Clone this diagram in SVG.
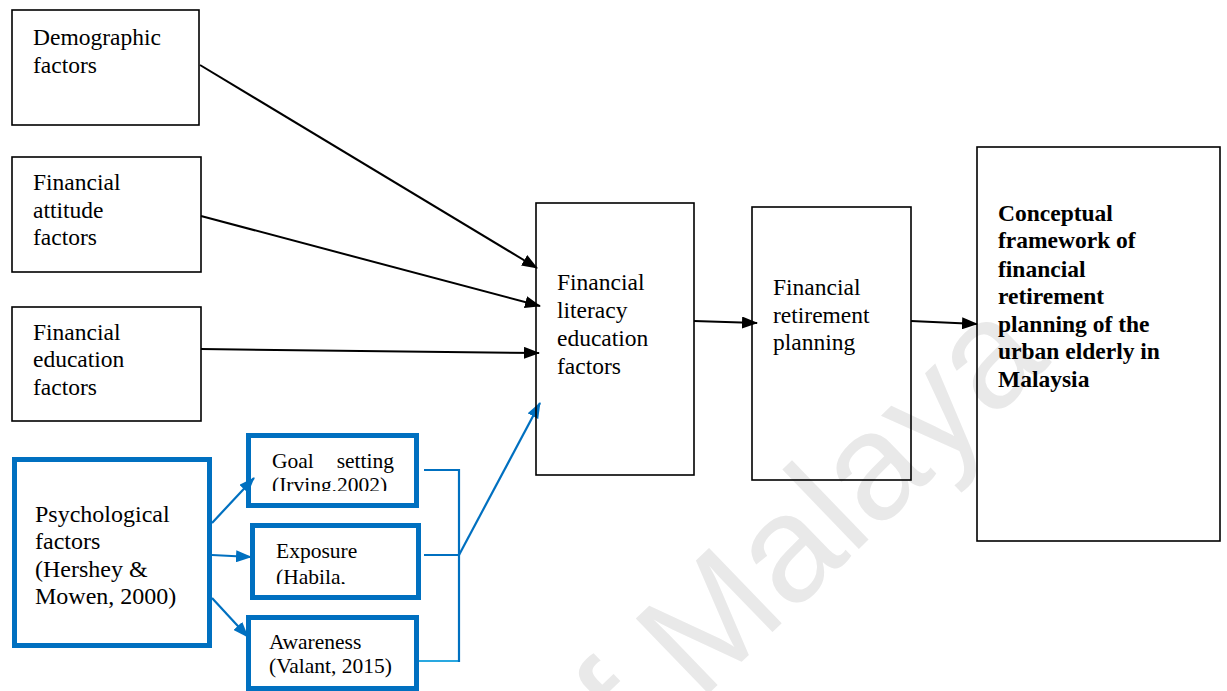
<svg xmlns="http://www.w3.org/2000/svg" width="1227" height="691" viewBox="0 0 1227 691">
<style>
  .box{fill:none;stroke:#000;stroke-width:1.6}
  .bbox{fill:none;stroke:#0070C0;stroke-width:5}
  .t{font-family:"Liberation Serif","Times New Roman",serif;font-size:23.5px;fill:#000}
  .tp{font-family:"Liberation Serif","Times New Roman",serif;font-size:24px;fill:#000}
  .ts{font-family:"Liberation Serif","Times New Roman",serif;font-size:21.5px;fill:#000}
  .tb{font-family:"Liberation Serif","Times New Roman",serif;font-size:23.5px;font-weight:bold;fill:#000}
  .ln{fill:none;stroke:#000;stroke-width:2}
  .bl{fill:none;stroke:#0070C0;stroke-width:2.2}
  .wm{font-family:"Liberation Sans",Arial,sans-serif;font-size:152px;fill:#e9e9e9}
</style>
<defs>
  <marker id="ah" viewBox="0 0 16 12" refX="15" refY="6" markerWidth="16" markerHeight="12" markerUnits="userSpaceOnUse" orient="auto">
    <path d="M0,0 L16,6 L0,12 z" fill="#000"/>
  </marker>
  <marker id="ahb" viewBox="0 0 16 12" refX="15" refY="6" markerWidth="16" markerHeight="12" markerUnits="userSpaceOnUse" orient="auto">
    <path d="M0,0 L16,6 L0,12 z" fill="#0070C0"/>
  </marker>
  <clipPath id="cg"><rect x="250" y="437" width="165" height="54"/></clipPath>
  <clipPath id="ce"><rect x="254" y="527" width="163" height="57"/></clipPath>
</defs>

<g id="watermark">
  <text class="wm" transform="translate(578,820) rotate(-44)">of Malaya</text>
</g>

<g id="connectors">
  <line class="ln" x1="200" y1="65" x2="537" y2="268" marker-end="url(#ah)"/>
  <line class="ln" x1="201" y1="216" x2="540" y2="306" marker-end="url(#ah)"/>
  <line class="ln" x1="201" y1="349" x2="539" y2="353" marker-end="url(#ah)"/>
  <line class="ln" x1="694" y1="321" x2="757" y2="323" marker-end="url(#ah)"/>
  <line class="ln" x1="911" y1="321" x2="977" y2="324" marker-end="url(#ah)"/>
  <line class="bl" x1="212" y1="523" x2="254" y2="478" marker-end="url(#ahb)"/>
  <line class="bl" x1="212" y1="555" x2="251" y2="557" marker-end="url(#ahb)"/>
  <line class="bl" x1="212" y1="598" x2="248" y2="637" marker-end="url(#ahb)"/>
  <line class="bl" x1="424" y1="470" x2="459" y2="470"/>
  <line class="bl" x1="424" y1="555" x2="459" y2="555"/>
  <line x1="419" y1="661" x2="459" y2="661" stroke="#29A8E0" stroke-width="2.2"/>
  <line class="bl" x1="459" y1="469" x2="459" y2="662"/>
  <line class="bl" x1="459" y1="555" x2="540" y2="403" marker-end="url(#ahb)"/>
</g>

<g id="demographic">
  <rect class="box" x="12" y="10" width="187" height="115"/>
  <text class="t" x="33" y="45">Demographic</text>
  <text class="t" x="33" y="73">factors</text>
</g>
<g id="attitude">
  <rect class="box" x="12" y="157" width="189" height="115"/>
  <text class="t" x="33" y="190">Financial</text>
  <text class="t" x="33" y="218">attitude</text>
  <text class="t" x="33" y="245">factors</text>
</g>
<g id="education">
  <rect class="box" x="12" y="307" width="189" height="114"/>
  <text class="t" x="33" y="340">Financial</text>
  <text class="t" x="33" y="367">education</text>
  <text class="t" x="33" y="395">factors</text>
</g>
<g id="psychological">
  <rect class="bbox" x="14.5" y="459.5" width="195" height="186"/>
  <text class="tp" x="35" y="522">Psychological</text>
  <text class="tp" x="35" y="549">factors</text>
  <text class="tp" x="35" y="577">(Hershey &amp;</text>
  <text class="tp" x="35" y="604">Mowen, 2000)</text>
</g>
<g id="goal">
  <rect class="bbox" x="248.5" y="435.5" width="168" height="70"/>
  <g clip-path="url(#cg)">
    <text class="ts" x="272" y="468">Goal</text>
    <text class="ts" x="394" y="468" text-anchor="end">setting</text>
    <text class="ts" x="272" y="492">(Irving,2002)</text>
  </g>
</g>
<g id="exposure">
  <rect class="bbox" x="252.5" y="525.5" width="166" height="72"/>
  <g clip-path="url(#ce)">
    <text class="ts" x="276" y="558">Exposure</text>
    <text class="ts" x="276" y="584">(Habila,</text>
  </g>
</g>
<g id="awareness">
  <rect class="bbox" x="248.5" y="617.5" width="168" height="71"/>
  <text class="ts" x="269" y="649">Awareness</text>
  <text class="ts" x="269" y="673">(Valant, 2015)</text>
</g>
<g id="literacy">
  <rect class="box" x="536" y="203" width="158" height="272"/>
  <text class="t" x="557" y="290">Financial</text>
  <text class="t" x="557" y="318">literacy</text>
  <text class="t" x="557" y="346">education</text>
  <text class="t" x="557" y="374">factors</text>
</g>
<g id="retirement">
  <rect class="box" x="752" y="207" width="159" height="273"/>
  <text class="t" x="773" y="295">Financial</text>
  <text class="t" x="773" y="323">retirement</text>
  <text class="t" x="773" y="350">planning</text>
</g>
<g id="conceptual">
  <rect class="box" x="977" y="147" width="243" height="394"/>
  <text class="tb" x="998" y="221">Conceptual</text>
  <text class="tb" x="998" y="248">framework of</text>
  <text class="tb" x="998" y="277">financial</text>
  <text class="tb" x="998" y="304">retirement</text>
  <text class="tb" x="998" y="332">planning of the</text>
  <text class="tb" x="998" y="359">urban elderly in</text>
  <text class="tb" x="998" y="387">Malaysia</text>
</g>
</svg>
